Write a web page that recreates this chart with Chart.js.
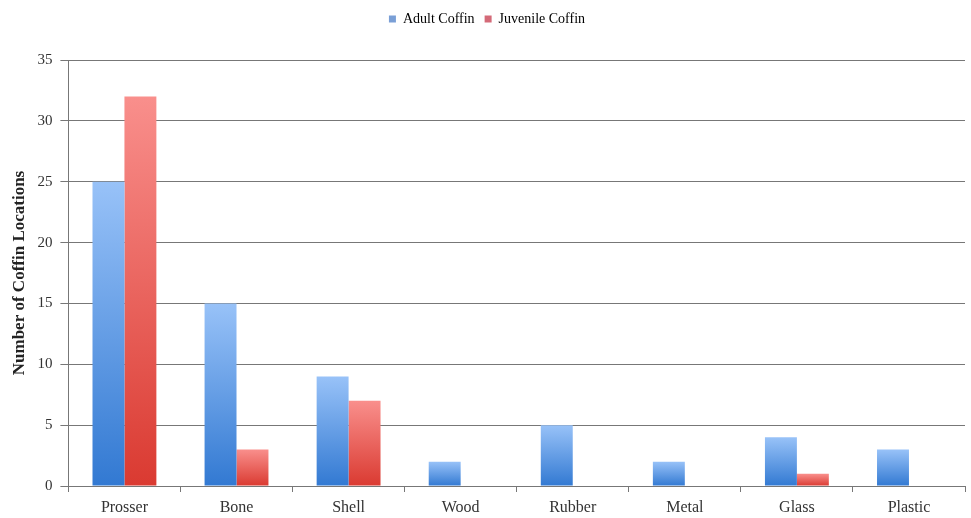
<!DOCTYPE html>
<html>
<head>
<meta charset="utf-8">
<script src="https://cdn.jsdelivr.net/npm/chart.js@4.4.1/dist/chart.umd.min.js"></script>
<style>
  html, body { margin: 0; padding: 0; background: #fff; }
  #wrap { width: 971px; height: 518px; }
</style>
</head>
<body>
<div id="wrap"><canvas id="bchart"></canvas></div>
<script>
// coffin locations by material
const categories = ["Prosser", "Bone", "Shell", "Wood", "Rubber", "Metal", "Glass", "Plastic"];
const adultCoffin = [25, 15, 9, 2, 5, 2, 4, 3];
const juvenileCoffin = [32, 3, 7, 0, 0, 0, 1, 0];
const yTicks = [0, 5, 10, 15, 20, 25, 30, 35];

// per-bar vertical gradient, light on top, dark at the base
function barGradient(light, dark) {
    return function (ctx) {
        const chart = ctx.chart;
        const y = chart.scales.y;
        if (!y || ctx.type !== 'data') return dark;
        const v = ctx.raw || 0;
        const top = y.getPixelForValue(v);
        const base = y.getPixelForValue(0);
        if (!isFinite(top) || !isFinite(base) || base - top < 1) return dark;
        const g = chart.ctx.createLinearGradient(0, top, 0, base);
        g.addColorStop(0, light);
        g.addColorStop(1, dark);
        return g;
    };
}

// extra room under the legend
const legendGap = {
    id: 'legendGap',
    afterInit(chart) {
        const lg = chart.legend;
        const fit = lg.fit;
        lg.fit = function () {
            fit.call(this);
            this.height += 24;
        };
    }
};

const serif = "'Liberation Serif', 'DejaVu Serif', serif";

new Chart(document.getElementById("bchart"), {
    type: 'bar',
    data: {
        labels: categories,
        datasets: [
            {
                label: "Adult Coffin",
                backgroundColor: barGradient("#98c2f8", "#3279d2"),
                data: adultCoffin
            },
            {
                label: "Juvenile Coffin",
                backgroundColor: barGradient("#f98f8c", "#da3a31"),
                data: juvenileCoffin
            }
        ]
    },
    plugins: [legendGap],
    options: {
        responsive: true,
        maintainAspectRatio: false,
        animation: false,
        layout: { padding: { left: 9, right: 6, top: 2, bottom: 0 } },
        datasets: {
            bar: { categoryPercentage: 0.57, barPercentage: 1.0, borderWidth: 0 }
        },
        plugins: {
            legend: {
                position: 'top',
                labels: {
                    boxWidth: 7,
                    boxHeight: 7,
                    padding: 10,
                    color: '#333',
                    font: { family: serif, size: 14 },
                    generateLabels: function (chart) {
                        const cols = ["#7a9fd6", "#d46a78"];
                        return chart.data.datasets.map(function (ds, i) {
                            return {
                                text: ds.label,
                                fillStyle: cols[i],
                                strokeStyle: cols[i],
                                lineWidth: 0,
                                datasetIndex: i,
                                hidden: false
                            };
                        });
                    }
                }
            },
            tooltip: { enabled: false }
        },
        scales: {
            x: {
                offset: true,
                afterFit: function (scale) {
                    scale.height = 32;
                },
                grid: {
                    offset: true,
                    drawOnChartArea: false,
                    drawTicks: true,
                    tickLength: 6,
                    color: '#777'
                },
                border: { color: '#777', width: 1 },
                ticks: {
                    color: '#333',
                    padding: 6,
                    font: { family: serif, size: 16 }
                }
            },
            y: {
                min: 0,
                max: 35,
                afterBuildTicks: function (scale) {
                    scale.ticks = yTicks.map(function (v) { return { value: v }; });
                },
                grid: {
                    color: '#777',
                    lineWidth: 1,
                    drawTicks: true,
                    tickLength: 8
                },
                border: { color: '#777', width: 1 },
                ticks: {
                    color: '#333',
                    padding: 8,
                    font: { family: serif, size: 15 }
                },
                title: {
                    display: true,
                    text: 'Number of Coffin Locations',
                    color: '#222',
                    padding: { top: 0, bottom: 0 },
                    font: { family: serif, size: 17, weight: 'bold' }
                }
            }
        }
    }
});
</script>
</body>
</html>
